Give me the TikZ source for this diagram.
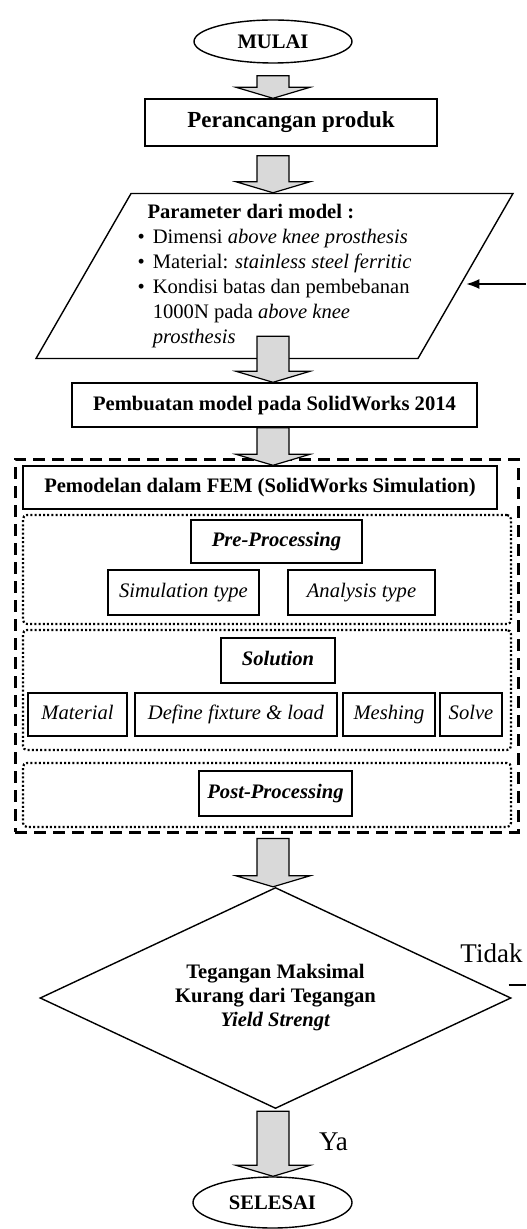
\documentclass[tikz,border=0pt]{standalone}
\usepackage{fontspec}
\setmainfont{Liberation Serif}
\usetikzlibrary{shapes.geometric,calc,arrows.meta}

% fat grey arrow between two nodes, drawn on the column (col)
\newcommand{\fatarrow}[3]{%
	\filldraw[fill=gray!30,line width=0.6pt] let \p1=(#1), \p2=(#2), \p3=(col) in
		({\x3-8pt},{\y1-(#3)}) -- ({\x3+8pt},{\y1-(#3)}) -- ({\x3+8pt},{\y2+5.5pt}) -- ({\x3+18.5pt},{\y2+5.5pt})
		-- (\x3,\y2) -- ({\x3-18.5pt},{\y2+5.5pt}) -- ({\x3-8pt},{\y2+5.5pt}) -- cycle;}

\begin{document}
\begin{tikzpicture}[x=0.5pt,y=-0.5pt,
				every node/.style={font=\fontsize{10.3pt}{12.5pt}\selectfont},
				box/.style={draw,line width=0.7pt,inner sep=0pt,text height=7.3pt,text depth=2.3pt},
				term/.style={ellipse,draw,line width=0.7pt,minimum width=79pt,inner sep=0pt},
				group/.style={draw,line width=1.5pt,dash pattern=on 6pt off 3.5pt},
				stage/.style={draw,line width=1.1pt,dash pattern=on 1pt off 1.1pt,rounded corners=2pt},
				side/.style={font=\fontsize{13.5pt}{16pt}\selectfont}]
\useasboundingbox (0,0) rectangle (526,1229);
\coordinate (col) at (273,0);
\node[term,minimum height=21.5pt] (mulai) at (273,41.5) {\textbf{MULAI}};
\node[box,minimum width=146pt,minimum height=23.5pt,font=\fontsize{11.5pt}{14pt}\selectfont] (rancang) at (291,122.5) {\textbf{Perancangan produk}};
\node[trapezium,trapezium left angle=60,trapezium right angle=120,draw,line width=0.7pt,
	inner xsep=0pt,minimum height=82.5pt,align=left] (param) at (274.5,276) {%
	\hspace{5pt}\textbf{Parameter dari model :}\\
	\textbullet\hspace{4pt}Dimensi \textit{above knee prosthesis}\\
	\textbullet\hspace{4pt}Material: \textit{stainless steel ferritic}\\
	\textbullet\hspace{4pt}Kondisi batas dan pembebanan\\
	\hphantom{\textbullet\hspace{4pt}}1000N pada \textit{above knee}\\
	\hphantom{\textbullet\hspace{4pt}}\textit{prosthesis}};
\node[box,minimum width=202.5pt,minimum height=22pt] (buat) at (274.5,405) {\textbf{Pembuatan model pada SolidWorks 2014}};
% FEM block
\node[group,minimum width=251.5pt,minimum height=186.5pt] (femgrp) at (266.5,645.5) {};
\node[stage,minimum width=244pt,minimum height=54.5pt] (pregrp) at (267,569.5) {};
\node[stage,minimum width=244pt,minimum height=60pt] (solgrp) at (267,690) {};
\node[stage,minimum width=244pt,minimum height=32pt] (postgrp) at (267,795) {};
\node[box,minimum width=237pt,minimum height=21.5pt,fill=white] (fem) at (260,487.5) {\textbf{Pemodelan dalam FEM (SolidWorks Simulation)}};
\node[box,minimum width=85.5pt,minimum height=21.5pt] (pre) at (276.5,541.5) {\textbf{\textit{Pre-Processing}}};
\node[box,minimum width=75.5pt,minimum height=22.5pt] (simtype) at (183.5,592.5) {\textit{Simulation type}};
\node[box,minimum width=73.5pt,minimum height=22.5pt] (anatype) at (361.5,592.5) {\textit{Analysis type}};
\node[box,minimum width=57pt,minimum height=22.5pt] (sol) at (278,660.5) {\textbf{\textit{Solution}}};
\node[box,minimum width=49.5pt,minimum height=21.5pt] (mat) at (77.5,714.5) {\textit{Material}};
\node[box,minimum width=101pt,minimum height=21.5pt] (fix) at (236,714.5) {\textit{Define fixture \& load}};
\node[box,minimum width=46pt,minimum height=21.5pt] (mesh) at (389,714.5) {\textit{Meshing}};
\node[box,minimum width=31pt,minimum height=21.5pt] (solve) at (471,714.5) {\textit{Solve}};
\node[box,minimum width=76.5pt,minimum height=22.5pt] (post) at (275.5,793.5) {\textbf{\textit{Post-Processing}}};
% decision
\node[diamond,aspect=2.13,draw,line width=0.7pt,minimum width=235.5pt,minimum height=110.5pt,inner sep=0pt,
	align=center,font=\fontsize{10.3pt}{12pt}\selectfont\bfseries] (dia) at (275.5,998) {Tegangan Maksimal\\Kurang dari Tegangan\\\textit{Yield Strengt}};
\node[term,minimum width=79.5pt,minimum height=25.5pt] (selesai) at (272.5,1202.5) {\textbf{SELESAI}};
\fatarrow{mulai.south}{rancang.north}{6pt}
\fatarrow{rancang.south}{param.north}{4.5pt}
\fatarrow{param.south}{buat.north}{-11.5pt}
\fatarrow{buat.south}{fem.north}{0pt}
\fatarrow{femgrp.south}{dia.north}{2.5pt}
\fatarrow{dia.south}{selesai.north}{1pt}
% loop back
\coordinate (back) at (526,284);
\draw[line width=0.8pt,-{Latex[length=6.5pt,width=5pt]}] (back) -- (back -| param.east);
\coordinate (tidakend) at (526,985);
\draw[line width=0.8pt] ([xshift=-1.5pt,yshift=6.5pt]dia.east) -- (tidakend);
\node[side] (tidak) at (491.5,953) {Tidak};
\node[side] (ya) at (333.5,1142) {Ya};
\end{tikzpicture}
\end{document}
